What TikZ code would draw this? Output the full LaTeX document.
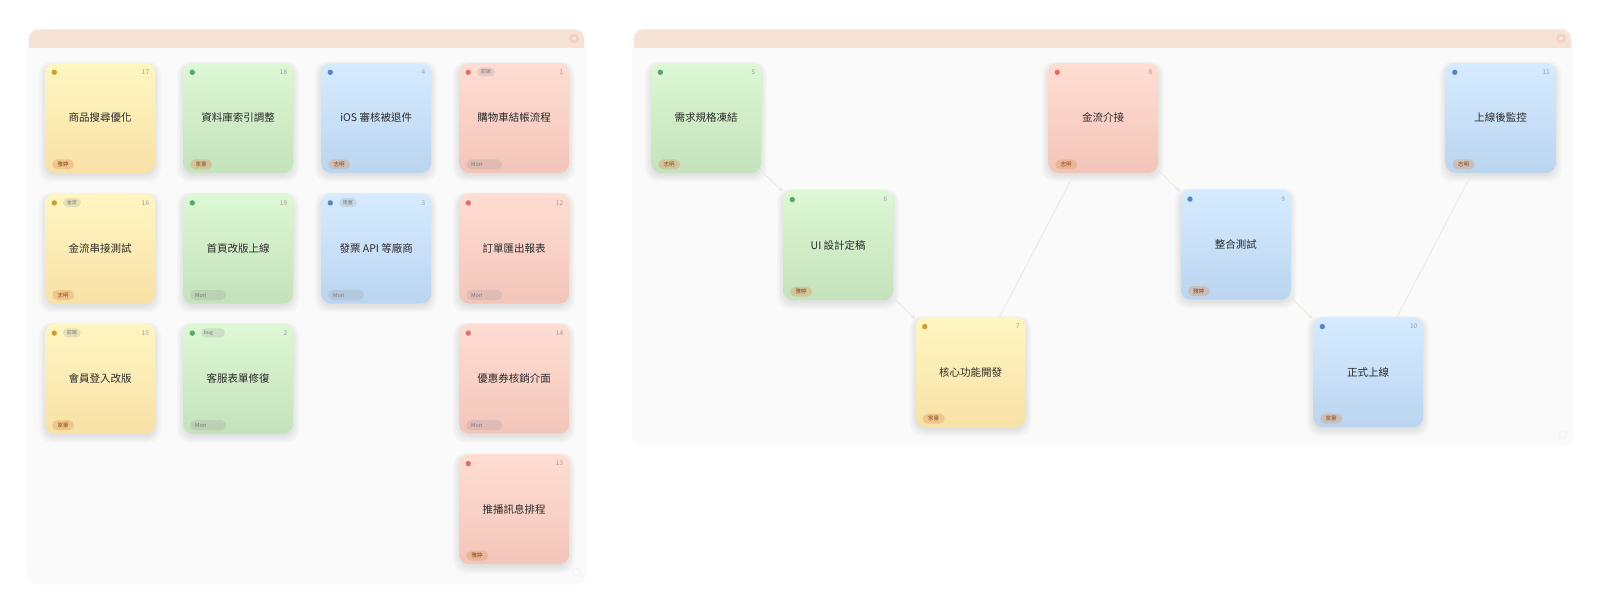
\documentclass[tikz,border=0pt]{standalone}
\usepackage{fontspec}
\setmainfont{Noto Sans CJK TC}
\usetikzlibrary{calc,arrows.meta}
\definecolor{ytop}{HTML}{FFF6C2}\definecolor{ybot}{HTML}{F8E1A6}\definecolor{ydot}{HTML}{CC9E35}
\definecolor{gtop}{HTML}{DCF8D4}\definecolor{gbot}{HTML}{C4E2BB}\definecolor{gdot}{HTML}{5BA56E}
\definecolor{btop}{HTML}{D6EBFF}\definecolor{bbot}{HTML}{BBD5F0}\definecolor{bdot}{HTML}{5A83CA}
\definecolor{rtop}{HTML}{FFDDD3}\definecolor{rbot}{HTML}{F3C5BA}\definecolor{rdot}{HTML}{D9726E}
\definecolor{panelbg}{HTML}{FAFAFA}\definecolor{headbg}{HTML}{F6E3D6}\definecolor{closebg}{HTML}{F0CDBD}
\definecolor{chipor}{HTML}{DE9A66}\definecolor{chiptext}{HTML}{8A4612}
\definecolor{chipgray}{HTML}{8C8C8C}\definecolor{numgray}{HTML}{9A9A9A}
\definecolor{titletext}{HTML}{2A2A2A}\definecolor{linkcol}{HTML}{ECE8E0}
\tikzset{
  card/.style={rounded corners=10pt, minimum width=110pt, minimum height=110pt, inner sep=0pt, draw=none},
  num/.style={text=numgray, font=\fontsize{6.5}{7}\selectfont, inner sep=0pt},
  ttl/.style={text=titletext, font=\fontsize{10.5}{12}\selectfont, inner sep=0pt},
  pchip/.style={rounded corners=5pt, minimum height=10pt, minimum width=22pt, inner sep=0pt,
    fill=chipor, fill opacity=.38, text opacity=1, text=chiptext, font=\fontsize{5.5}{6}\selectfont},
  mchip/.style={rounded corners=5pt, minimum height=10pt, minimum width=36pt, inner sep=0pt,
    fill=chipgray, fill opacity=.2, text opacity=1, text=chipgray!85!black, font=\fontsize{5.5}{6}\selectfont},
  tchip/.style={rounded corners=4.5pt, minimum height=9pt, minimum width=18pt, inner sep=0pt,
    fill=chipgray, fill opacity=.2, text opacity=1, text=chipgray!85!black, font=\fontsize{5}{6}\selectfont},
  link/.style={draw=linkcol, line width=0.8pt, -{Stealth[length=5pt,width=4.5pt]}, shorten >=0.5pt},
  softshadow/.style={fill=black, opacity=.018, rounded corners=12pt},
}
% #1 name, #2 x, #3 y, #4 colour prefix, #5 number, #6 title
\newcommand\sticky[6]{%
  \foreach \s in {0,1.5,3,4.5,6}{\fill[softshadow] (#2-\s,#3+2-\s*.5) rectangle (#2+110+\s,#3+113+\s);}
  \node[card, top color=#4top, bottom color=#4bot, anchor=north west] (#1) at (#2,#3) {};
  \fill[#4dot] ($(#1.north west)+(9.3,9.6)$) circle (2.7);
  \node[num, anchor=east] (#1n) at ($(#1.north east)+(-6,9.6)$) {#5};
  \node[ttl] (#1t) at (#1.center) {#6};
}
\newcommand\pname[2]{\node[pchip, anchor=west] (#1p) at ($(#1.south west)+(7,-8.7)$) {#2};}
\newcommand\pmori[1]{\node[mchip, anchor=west] (#1p) at ($(#1.south west)+(7,-8.7)$) {\makebox[26pt][l]{Mori}};}
\newcommand\tagc[2]{\node[tchip, anchor=west] (#1g) at ($(#1.north west)+(17.7,9.3)$) {#2};}
\newcommand\tagw[2]{\node[tchip, minimum width=24pt, anchor=west] (#1g) at ($(#1.north west)+(17.7,9.3)$) {\makebox[18pt][l]{#2}};}
\begin{document}
\begin{tikzpicture}[x=1pt,y=-1pt]
\useasboundingbox (0,0) rectangle (1600,612);
% ---------- panels ----------
\foreach \s in {0,1.5,3}{\fill[black, opacity=.012, rounded corners=11pt] (29-\s,29.3-\s*.3) rectangle (584+\s,582+\s);}
\foreach \s in {0,1.5,3}{\fill[black, opacity=.012, rounded corners=11pt] (634-\s,29.3-\s*.3) rectangle (1571+\s,444+\s);}
\fill[panelbg, rounded corners=10pt] (29,29.3) rectangle (584,582);
\fill[panelbg, rounded corners=10pt] (634,29.3) rectangle (1571,444);
\begin{scope}
  \clip[rounded corners=10pt] (29,29.3) rectangle (584,582);
  \fill[headbg] (29,29.3) rectangle (584,47.7);
\end{scope}
\begin{scope}
  \clip[rounded corners=10pt] (634,29.3) rectangle (1571,444);
  \fill[headbg] (634,29.3) rectangle (1571,47.7);
\end{scope}
\fill[closebg, opacity=.7] (574,38.4) circle (5);
\fill[closebg, opacity=.7] (1561,38.4) circle (5);
\draw[white, line width=.5pt] (572.5,36.9) -- (575.5,39.9) (572.5,39.9) -- (575.5,36.9);
\draw[white, line width=.5pt] (1559.5,36.9) -- (1562.5,39.9) (1559.5,39.9) -- (1562.5,36.9);
\draw[black!6, line width=.5pt] (576.7,572.3) circle (4);
\draw[black!6, line width=.5pt] (1563,435) circle (4);
% ---------- left board ----------
\sticky{c17}{45}{62.7}{y}{17}{商品搜尋優化}\pname{c17}{雅婷}
\sticky{c18}{183}{62.7}{g}{18}{資料庫索引調整}\pname{c18}{家豪}
\sticky{c4}{321}{62.7}{b}{4}{iOS 審核被退件}\pname{c4}{志明}
\sticky{c1}{459}{62.7}{r}{1}{購物車結帳流程}\tagc{c1}{前端}\pmori{c1}
\sticky{c16}{45}{193.3}{y}{16}{金流串接測試}\tagc{c16}{金流}\pname{c16}{志明}
\sticky{c19}{183}{193.3}{g}{19}{首頁改版上線}\pmori{c19}
\sticky{c3}{321}{193.3}{b}{3}{發票 API 等廠商}\tagc{c3}{阻塞}\pmori{c3}
\sticky{c12}{459}{193.3}{r}{12}{訂單匯出報表}\pmori{c12}
\sticky{c15}{45}{323.5}{y}{15}{會員登入改版}\tagc{c15}{前端}\pname{c15}{家豪}
\sticky{c2}{183}{323.5}{g}{2}{客服表單修復}\tagw{c2}{bug}\pmori{c2}
\sticky{c14}{459}{323.5}{r}{14}{優惠券核銷介面}\pmori{c14}
\sticky{c13}{459}{454}{r}{13}{推播訊息排程}\pname{c13}{雅婷}
% ---------- right board ----------
\sticky{c5}{651}{62.7}{g}{5}{需求規格凍結}\pname{c5}{志明}
\sticky{c6}{783}{190}{g}{6}{UI 設計定稿}\pname{c6}{雅婷}
\sticky{c7}{915.5}{317}{y}{7}{核心功能開發}\pname{c7}{家豪}
\sticky{c8}{1048}{62.7}{r}{8}{金流介接}\pname{c8}{志明}
\sticky{c9}{1180.7}{189.5}{b}{9}{整合測試}\pname{c9}{雅婷}
\sticky{c10}{1313}{317}{b}{10}{正式上線}\pname{c10}{家豪}
\sticky{c11}{1445.5}{62.7}{b}{11}{上線後監控}\pname{c11}{志明}
% ---------- connectors ----------
\draw[link] (c5) -- (c6);
\draw[link] (c6) -- (c7);
\draw[link] (c7) -- (c8);
\draw[link] (c8) -- (c9);
\draw[link] (c9) -- (c10);
\draw[link] (c10) -- (c11);
\end{tikzpicture}
\end{document}
